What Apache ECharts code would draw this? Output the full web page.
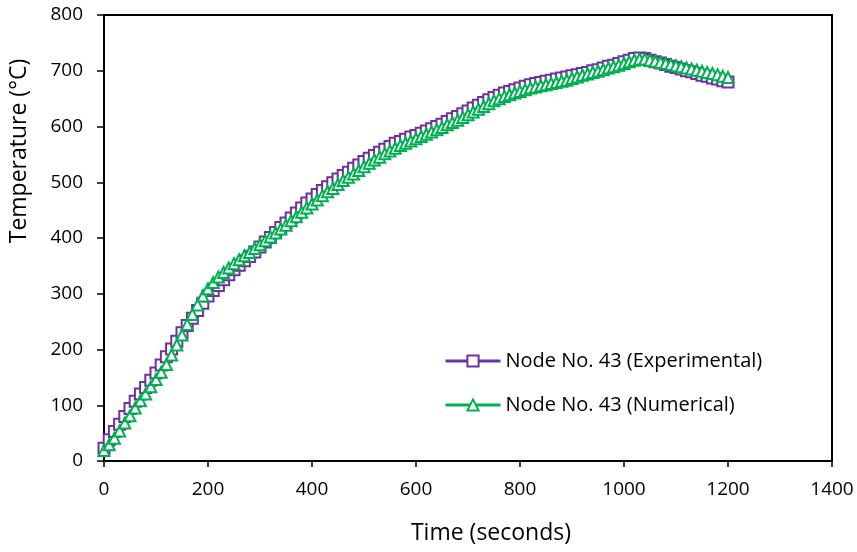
<!DOCTYPE html>
<html>
<head>
<meta charset="utf-8">
<script src="https://cdn.jsdelivr.net/npm/echarts@6/dist/echarts.min.js"></script>
<style>
html, body { margin: 0; padding: 0; background: #fff; }
#chart { width: 857px; height: 552px; }
</style>
</head>
<body>
<div id="chart"></div>
<script>
// time in seconds, one reading every 10 s (0 .. 1200)
var times = [];
for (var t = 0; t <= 1200; t += 10) times.push(t);

var experimental = [
    23, 38, 53, 66, 80, 94, 107, 120, 132, 145,
    158, 172, 187, 201, 215, 230, 243, 256, 270, 283,
    296, 306, 315, 325, 334, 343, 351, 359, 367, 375,
    384, 393, 401, 410, 419, 427, 436, 445, 454, 463,
    470, 478, 485, 492, 499, 506, 512, 518, 525, 531,
    537, 543, 548, 554, 559, 564, 570, 573, 577, 581,
    584, 588, 592, 596, 600, 604, 609, 614, 618, 623,
    628, 633, 638, 643, 648, 652, 656, 660, 663, 666,
    669, 672, 675, 677, 679, 681, 683, 685, 687, 689,
    691, 693, 695, 697, 700, 702, 705, 708, 710, 713,
    716, 719, 722, 723, 722, 719, 716, 714, 711, 708,
    706, 703, 700, 698, 695, 692, 690, 687, 685, 682,
    680];

var numerical = [
    19, 29, 41, 54, 68, 81, 95, 108, 120, 133,
    146, 159, 173, 190, 208, 226, 245, 263, 280, 296,
    309, 320, 330, 338, 346, 354, 361, 368, 374, 381,
    388, 395, 402, 409, 416, 423, 431, 438, 446, 454,
    461, 468, 476, 483, 489, 496, 503, 509, 515, 521,
    528, 534, 540, 545, 551, 556, 561, 566, 570, 574,
    578, 582, 586, 590, 594, 598, 603, 607, 611, 616,
    621, 626, 631, 636, 641, 646, 650, 654, 657, 660,
    663, 666, 669, 671, 673, 675, 677, 679, 681, 683,
    686, 689, 692, 694, 697, 699, 702, 705, 707, 710,
    713, 716, 719, 721, 721, 719, 717, 715, 713, 711,
    709, 707, 705, 703, 701, 699, 697, 695, 693, 690,
    688];

var xTicks = { min: 0, max: 1400, step: 200 };
var yTicks = { min: 0, max: 800, step: 100 };

function pairs(vals) {
    return vals.map(function (v, i) { return [times[i], v]; });
}

var chart = echarts.init(document.getElementById('chart'));
var font = 'Open Sans';

option = {
    animation: false,
    textStyle: { fontFamily: font },
    grid: {
        left: 104, right: 25, top: 15, bottom: 91,
        show: true,
        borderColor: '#000',
        borderWidth: 2
    },
    // axis titles sit off-centre in the original, so they are placed by hand
    graphic: [
        {
            type: 'text',
            x: 491, y: 533,
            style: { text: 'Time (seconds)', font: '23px "Open Sans"', fill: '#000', align: 'center', verticalAlign: 'middle' }
        },
        {
            type: 'text',
            x: 19, y: 151,
            rotation: Math.PI / 2,
            style: { text: 'Temperature (°C)', font: '23px "Open Sans"', fill: '#000', align: 'center', verticalAlign: 'middle' }
        }
    ],
    legend: {
        orient: 'vertical',
        left: 444,
        top: 351,
        padding: 0,
        itemWidth: 55,
        itemHeight: 14,
        itemGap: 24,
        lineStyle: { width: 3 },
        textStyle: { fontFamily: font, fontSize: 20, color: '#000' },
        data: ['Node No. 43 (Experimental)', 'Node No. 43 (Numerical)']
    },
    xAxis: {
        type: 'value',
        min: xTicks.min, max: xTicks.max, interval: xTicks.step,
        axisLine: { lineStyle: { color: '#000', width: 2 } },
        axisTick: { length: 6, lineStyle: { color: '#000', width: 1.5 } },
        axisLabel: { margin: 19, fontSize: 19, color: '#000', formatter: function (v) { return String(v); } },
        splitLine: { show: false }
    },
    yAxis: {
        type: 'value',
        min: yTicks.min, max: yTicks.max, interval: yTicks.step,
        axisLine: { show: true, lineStyle: { color: '#000', width: 2 } },
        axisTick: { show: true, length: 7, lineStyle: { color: '#000', width: 1.5 } },
        axisLabel: { margin: 21, fontSize: 19, color: '#000', formatter: function (v) { return String(v); } },
        splitLine: { show: false }
    },
    series: [
        {
            name: 'Node No. 43 (Experimental)',
            type: 'line',
            data: pairs(experimental),
            symbol: 'emptyRect',
            symbolSize: 11,
            color: '#7030A0',
            lineStyle: { width: 3, color: '#7030A0' },
            itemStyle: { color: '#7030A0', borderWidth: 1.8 }
        },
        {
            name: 'Node No. 43 (Numerical)',
            type: 'line',
            data: pairs(numerical),
            symbol: 'emptyTriangle',
            symbolSize: 11,
            color: '#00B050',
            lineStyle: { width: 3, color: '#00B050' },
            itemStyle: { color: '#00B050', borderWidth: 1.8 }
        }
    ]
};
chart.setOption(option);
</script>
</body>
</html>
